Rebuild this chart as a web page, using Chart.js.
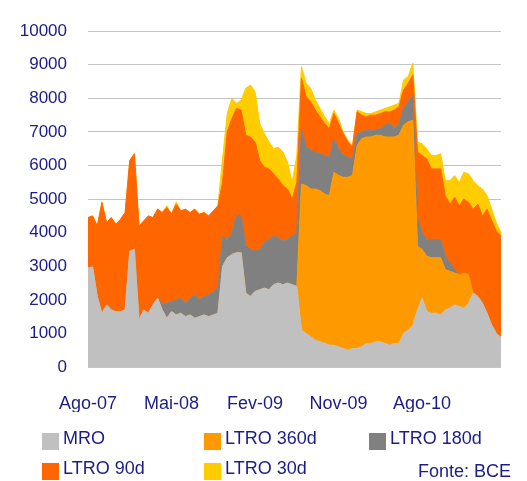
<!DOCTYPE html>
<html lang="pt">
<head>
    <meta charset="UTF-8">
    <title>Operações de cedência de liquidez do BCE</title>
    <script src="https://cdnjs.cloudflare.com/ajax/libs/Chart.js/4.4.0/chart.umd.min.js"></script>
    <style>
        body { margin: 0; background: #fff; }
        #wrap { position: relative; width: 527px; height: 481px; font-family: "Liberation Sans", Arial, sans-serif; color: #1c1c87; }
        #legend { position: absolute; left: 42px; top: 429px; display: grid; grid-template-columns: 162px 165px 150px; row-gap: 9px; }
        .item { display: flex; align-items: flex-start; font-size: 18px; line-height: 18px; white-space: nowrap; }
        .box { width: 17px; height: 17px; margin-top: 4px; margin-right: 4px; }
        #src { position: absolute; left: 418px; top: 462px; font-size: 18px; line-height: 18px; }
    </style>
</head>
<body>
<div id="wrap">
    <canvas id="chart"></canvas>
    <div id="legend"></div>
    <div id="src">Fonte: BCE</div>
</div>
<script>
    // meses (dois pontos por mês, Ago-07 a Abr-11)
    const months = ['Ago-07','Set-07','Out-07','Nov-07','Dez-07',
        'Jan-08','Fev-08','Mar-08','Abr-08','Mai-08','Jun-08','Jul-08','Ago-08','Set-08','Out-08','Nov-08','Dez-08',
        'Jan-09','Fev-09','Mar-09','Abr-09','Mai-09','Jun-09','Jul-09','Ago-09','Set-09','Out-09','Nov-09','Dez-09',
        'Jan-10','Fev-10','Mar-10','Abr-10','Mai-10','Jun-10','Jul-10','Ago-10','Set-10','Out-10','Nov-10','Dez-10',
        'Jan-11','Fev-11','Mar-11','Abr-11'];
    const tickLabels = ['Ago-07', 'Mai-08', 'Fev-09', 'Nov-09', 'Ago-10'];

    // valores em milhões de euros
    const mro = [2950,2980,2100,1600,1850,1700,1650,1650,1700,3450,
        3500,1400,1700,1600,1850,2050,1700,1450,1650,1550,
        1600,1500,1550,1450,1500,1550,1500,1550,1600,3000,
        3250,3350,3400,3400,2200,2100,2250,2300,2350,2300,
        2450,2500,2450,2500,2450,2400,1100,1000,900,800,
        750,700,650,650,600,550,500,550,550,600,
        700,700,750,750,700,650,700,700,1000,1100,
        1250,1700,2050,1650,1600,1600,1550,1700,1750,1850,
        1800,1750,1900,2200,2100,1900,1600,1250,1000,880];
    const ltro360 = [0,0,0,0,0,0,0,0,0,0,
        0,0,0,0,0,0,0,0,0,0,
        0,0,0,0,0,0,0,0,0,0,
        0,0,0,0,0,0,0,0,0,0,
        0,0,0,0,0,0,4350,4400,4400,4500,
        4500,4450,4450,5150,5100,5100,5150,5150,6050,6200,
        6150,6150,6150,6150,6150,6200,6150,6200,6200,6200,
        6100,1900,1450,1650,1650,1650,1700,1200,1100,950,
        950,1050,850,0,0,0,0,0,0,0];
    const ltro180 = [0,0,0,0,0,0,0,0,0,0,
        0,0,0,0,0,0,200,450,300,450,
        450,400,500,700,500,550,650,700,750,900,
        550,650,1100,1100,1450,1400,1200,1200,1350,1500,
        1450,1350,1300,1300,1450,1600,1650,1150,1150,1100,
        1100,1150,1150,1000,800,650,600,500,350,200,
        200,200,150,200,350,400,250,350,500,600,
        750,850,500,500,550,550,550,400,250,100,
        0,0,0,0,0,0,0,0,0,0];
    const ltro90 = [1500,1520,2100,3300,2450,2750,2600,2750,2900,2700,
        2850,2800,2650,2900,2600,2650,2700,2850,2600,2850,
        2600,2800,2550,2550,2550,2500,2350,2400,2450,1600,
        3200,3400,3200,3150,3250,3350,3250,2650,2250,2100,
        1850,1750,1650,1500,1100,1500,1500,1500,1450,1250,
        1100,950,850,750,750,650,450,350,650,500,
        400,450,450,450,400,350,550,500,550,550,
        600,1950,2300,2400,2100,2100,2100,1800,1750,2150,
        2050,2200,2150,2500,2750,2600,3100,3100,3050,3020];
    const ltro30 = [0,0,0,0,0,0,0,0,0,0,
        0,0,0,0,0,0,0,50,0,60,
        0,0,0,0,0,0,0,0,0,700,
        550,600,150,300,1400,1550,1500,1100,1000,800,
        750,950,1000,800,500,800,350,400,400,300,
        250,200,150,100,150,50,50,50,50,100,
        100,50,100,100,100,150,150,100,300,200,
        350,300,350,300,400,400,450,450,700,650,
        700,800,850,850,550,800,400,350,250,100];

    const seriesNames = ['MRO', 'LTRO 360d', 'LTRO 180d', 'LTRO 90d', 'LTRO 30d'];
    const seriesData = [mro, ltro360, ltro180, ltro90, ltro30];
    const seriesColors = ['#c0c0c0', '#ff9900', '#808080', '#ff6600', '#ffcc00'];

    const labels = months.flatMap(m => [m, m]);
    const navy = '#1c1c87';

    new Chart(document.getElementById('chart'), {
        type: 'line',
        data: {
            labels: labels,
            datasets: seriesNames.map((name, i) => ({
                label: name,
                data: seriesData[i],
                backgroundColor: seriesColors[i],
                borderColor: seriesColors[i],
                borderWidth: 1,
                pointRadius: 0,
                tension: 0,
                fill: i === 0 ? 'origin' : '-1'
            }))
        },
        options: {
            responsive: true,
            maintainAspectRatio: false,
            animation: false,
            layout: { padding: { top: 23, right: 25, bottom: 69, left: 0 } },
            plugins: { legend: { display: false }, tooltip: { enabled: false } },
            scales: {
                x: {
                    offset: false,
                    grid: { display: false, drawTicks: false },
                    border: { display: false },
                    afterFit: s => { s.height = 45; },
                    ticks: {
                        autoSkip: false,
                        maxRotation: 0,
                        padding: 26,
                        color: navy,
                        font: { family: 'Liberation Sans', size: 18 },
                        callback: (v, i) => (i % 2 === 0 && tickLabels.includes(labels[i])) ? labels[i] : ''
                    }
                },
                y: {
                    stacked: true,
                    min: 0,
                    max: 10000,
                    grid: { color: '#c4c4c4', drawTicks: false },
                    border: { display: false },
                    afterFit: s => { s.width = 88; },
                    ticks: {
                        stepSize: 1000,
                        padding: 21,
                        color: navy,
                        font: { family: 'Liberation Sans', size: 17 },
                        callback: v => String(v)
                    }
                }
            }
        }
    });

    // legenda em grelha (3 colunas)
    const legend = document.getElementById('legend');
    seriesNames.forEach((name, i) => {
        const item = document.createElement('div');
        item.className = 'item';
        item.innerHTML = '<span class="box" style="background:' + seriesColors[i] + '"></span><span>' + name + '</span>';
        legend.appendChild(item);
    });
</script>
</body>
</html>
